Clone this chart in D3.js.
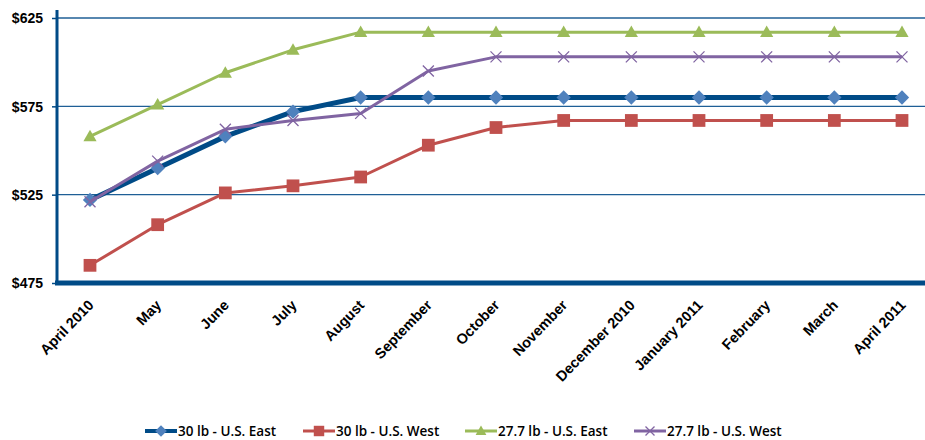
<!DOCTYPE html>
<html>
<head>
<meta charset="utf-8">
<script src="https://cdn.jsdelivr.net/npm/d3@7"></script>
<style>
  html, body { margin: 0; padding: 0; background: #fff; }
  svg { display: block; }
  .tick-label { font-family: "Liberation Sans", Arial, sans-serif; font-weight: bold; font-size: 14px; fill: #000; }
  .x-label { font-family: "Liberation Sans", Arial, sans-serif; font-weight: bold; font-size: 14.5px; fill: #000; }
  .legend-label { font-family: "Open Sans", sans-serif; font-weight: 600; font-size: 13.5px; fill: #000; }
</style>
</head>
<body>
<svg id="chart" width="925" height="440"></svg>
<script>
// Monthly prices, April 2010 – April 2011
const months = ["April 2010", "May", "June", "July", "August", "September", "October",
                "November", "December 2010", "January 2011", "February", "March", "April 2011"];

const east30  = [522, 540, 558, 572, 580, 580, 580, 580, 580, 580, 580, 580, 580];
const west30  = [485, 508, 526, 530, 535, 553, 563, 567, 567, 567, 567, 567, 567];
const east277 = [558, 576, 594, 607, 617, 617, 617, 617, 617, 617, 617, 617, 617];
const west277 = [521, 544, 562, 567, 571, 595, 603, 603, 603, 603, 603, 603, 603];

const seriesNames = ["30 lb - U.S. East", "30 lb - U.S. West", "27.7 lb - U.S. East", "27.7 lb - U.S. West"];
const yTicks = [475, 525, 575, 625];

const series = [
  { name: seriesNames[0], values: east30,  line: "#004b87", marker: "#4f81bd", width: 5, shape: "diamond" },
  { name: seriesNames[1], values: west30,  line: "#c0504d", marker: "#c0504d", width: 3, shape: "square" },
  { name: seriesNames[2], values: east277, line: "#9bbb59", marker: "#9bbb59", width: 3, shape: "triangle" },
  { name: seriesNames[3], values: west277, line: "#8064a2", marker: "#8064a2", width: 3, shape: "cross" }
];

const svg = d3.select("#chart");
const plotLeft = 57, plotRight = 925, plotTop = 18, plotBottom = 283;

const x = d3.scalePoint().domain(months).range([90, 902]);
const y = d3.scaleLinear().domain([475, 625]).range([plotBottom, plotTop]);

// horizontal gridlines
svg.append("g").selectAll("line")
  .data(yTicks.filter(t => t !== 475))
  .join("line")
  .attr("x1", plotLeft).attr("x2", plotRight)
  .attr("y1", d => y(d)).attr("y2", d => y(d))
  .attr("stroke", "#1f5f96").attr("stroke-width", 1.3);

// y axis
const yAxis = svg.append("g").attr("transform", `translate(${plotLeft},0)`)
  .call(d3.axisLeft(y).tickValues(yTicks).tickSize(5).tickPadding(9).tickFormat(d => "$" + d));
yAxis.select(".domain").attr("stroke", "#004b87").attr("stroke-width", 3)
  .attr("d", `M0,${plotTop - 8}V${plotBottom}`);
yAxis.selectAll(".tick line").attr("stroke", "#004b87").attr("stroke-width", 1.5);
yAxis.selectAll(".tick text").attr("class", "tick-label").attr("dy", "0.35em");

// x axis
const xAxis = svg.append("g").attr("transform", `translate(0,${plotBottom})`)
  .call(d3.axisBottom(x).tickSize(0).tickPadding(0));
xAxis.select(".domain").attr("stroke", "#004b87").attr("stroke-width", 5)
  .attr("d", `M${plotLeft - 2},0H${plotRight}`);
xAxis.selectAll(".tick text")
  .attr("class", "x-label")
  .attr("text-anchor", "end")
  .attr("dy", null).attr("y", 0)
  .attr("transform", "translate(4,23) rotate(-46)");

// marker shapes
function drawMarker(g, shape, color, size) {
  if (shape === "diamond") {
    const s = size * 0.65;
    g.append("path").attr("d", `M0,${-s}L${s},0L0,${s}L${-s},0Z`).attr("fill", color);
  } else if (shape === "square") {
    const s = size * 0.58;
    g.append("rect").attr("x", -s).attr("y", -s).attr("width", 2 * s).attr("height", 2 * s).attr("fill", color);
  } else if (shape === "triangle") {
    const s = size * 0.6;
    g.append("path").attr("d", `M0,${-s}L${s},${s * 0.75}L${-s},${s * 0.75}Z`).attr("fill", color);
  } else if (shape === "cross") {
    const s = size * 0.5;
    g.append("path").attr("d", `M${-s},${-s}L${s},${s}M${-s},${s}L${s},${-s}`)
      .attr("stroke", color).attr("stroke-width", 1.3).attr("fill", "none");
  }
}

const line = d3.line().x((d, i) => x(months[i])).y(d => y(d));

series.forEach(s => {
  const g = svg.append("g");
  g.append("path").datum(s.values).attr("d", line)
    .attr("fill", "none").attr("stroke", s.line).attr("stroke-width", s.width)
    .attr("stroke-linejoin", "round");
  s.values.forEach((v, i) => {
    const m = g.append("g").attr("transform", `translate(${x(months[i])},${y(v)})`);
    drawMarker(m, s.shape, s.marker, 11);
  });
});

// legend
const legendX = [145, 303, 465, 634];
const legendY = 431;
series.forEach((s, i) => {
  const g = svg.append("g").attr("transform", `translate(${legendX[i]},${legendY})`);
  g.append("line").attr("x1", 0).attr("x2", 32).attr("y1", 0).attr("y2", 0)
    .attr("stroke", s.line).attr("stroke-width", s.width === 5 ? 4 : 3);
  const m = g.append("g").attr("transform", "translate(16,0)");
  drawMarker(m, s.shape, s.marker, 9);
  g.append("text").attr("class", "legend-label").attr("x", 33).attr("y", 0).attr("dy", "0.35em").text(s.name);
});
</script>
</body>
</html>
